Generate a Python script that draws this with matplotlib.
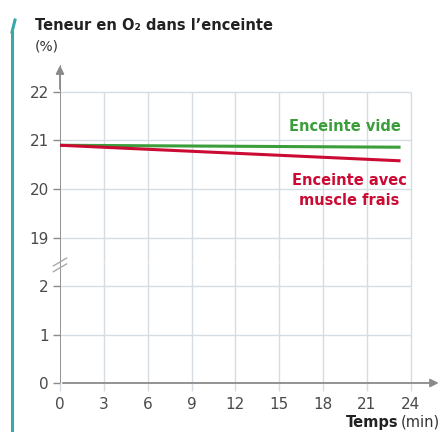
import matplotlib.pyplot as plt
from matplotlib.lines import Line2D

# data
temps = [0, 23.3]
o2_vide = [20.9, 20.86]
o2_muscle = [20.9, 20.58]
x_ticks = [0, 3, 6, 9, 12, 15, 18, 21, 24]
y_ticks_top = [19, 20, 21, 22]
y_ticks_bot = [0, 1, 2]

grid_col = "#d6dde2"
axis_col = "#8a8a8a"
label_col = "#4a4a4a"
green = "#3a9e3a"
red = "#cc0b35"

plt.rcParams["font.family"] = ["DejaVu Sans"]

fig = plt.figure(figsize=(4.43, 4.32), dpi=100)
L, W = 60 / 443, 380 / 443
ax_top = fig.add_axes([L, 1 - 262 / 432, W, 197 / 432])
ax_bot = fig.add_axes([L, 1 - 383 / 432, W, 121 / 432])

ax_top.set_ylim(18.5, 22.55)
ax_bot.set_ylim(0, 2.5)

for ax, yt, ylo, yhi in [(ax_top, y_ticks_top, 18.5, 22), (ax_bot, y_ticks_bot, 0, 2.5)]:
	ax.set_xlim(0, 26)
	for s in ["top", "right", "bottom", "left"]:
		ax.spines[s].set_visible(False)
	ax.set_facecolor("none")
	ax.vlines(x_ticks[1:], ylo, yhi, color=grid_col, lw=1, zorder=0)
	ax.hlines([t for t in yt if t > 0], 0, 24, color=grid_col, lw=1, zorder=0)
	ax.set_yticks(yt)
	ax.set_yticklabels([str(t) for t in yt])
	ax.tick_params(axis="y", length=5, width=1, color=axis_col, labelcolor=label_col,
		labelsize=11, pad=3)
	ax.axvline(0, color=axis_col, lw=1.3, zorder=1)

ax_top.set_xticks([])
ax_bot.set_xticks(x_ticks)
ax_bot.set_xticklabels([str(t) for t in x_ticks])
ax_bot.tick_params(axis="x", length=6, width=1, color=grid_col, labelcolor=label_col,
	labelsize=11, pad=4)

# x axis with arrow
ax_bot.annotate("", xy=(26.1, 0), xytext=(0, 0), annotation_clip=False,
	arrowprops=dict(arrowstyle="-|>", color=axis_col, lw=1.3, mutation_scale=12))
# y axis arrow
ax_top.annotate("", xy=(0, 22.6), xytext=(0, 22.0), annotation_clip=False,
	arrowprops=dict(arrowstyle="-|>", color=axis_col, lw=1.3, mutation_scale=12))

# break marks
for dy in [-0.12, 0.0]:
	ax_bot.plot([-0.45, 0.45], [2.42 + dy, 2.58 + dy], color="#aaaaaa", lw=1,
		clip_on=False, zorder=5)

ax_top.plot(temps, o2_vide, color=green, lw=2.2, solid_capstyle="butt")
ax_top.plot(temps, o2_muscle, color=red, lw=2.2, solid_capstyle="butt")

ax_top.text(23.3, 21.28, "Enceinte vide", color=green, fontsize=10.5, fontweight="bold",
	ha="right", va="center")
ax_top.text(19.8, 19.97, "Enceinte avec\nmuscle frais", color=red, fontsize=10.5,
	fontweight="bold", ha="center", va="center", multialignment="center", linespacing=1.45)

fig.text(35 / 443, 1 - 25 / 432, "Teneur en O\u2082 dans l\u2019enceinte", fontsize=10.5,
	fontweight="bold", color="#222222", ha="left", va="center")
fig.text(35 / 443, 1 - 47 / 432, "(%)", fontsize=10, color="#333333", ha="left", va="center")

fig.text(398 / 443, 1 - 422 / 432, "Temps", fontsize=10.5, fontweight="bold",
	color="#222222", ha="right", va="center")
fig.text(401 / 443, 1 - 422 / 432, "(min)", fontsize=10.5, color="#333333",
	ha="left", va="center")

# decorative teal border on the left
fig.add_artist(Line2D([12 / 443, 12 / 443], [0, 1 - 32 / 432], color="#3aa7ab", lw=2.2))
fig.add_artist(Line2D([12 / 443, 15 / 443], [1 - 32 / 432, 1 - 20 / 432], color="#3aa7ab", lw=2.2))

fig.savefig("out.png", dpi=100)
